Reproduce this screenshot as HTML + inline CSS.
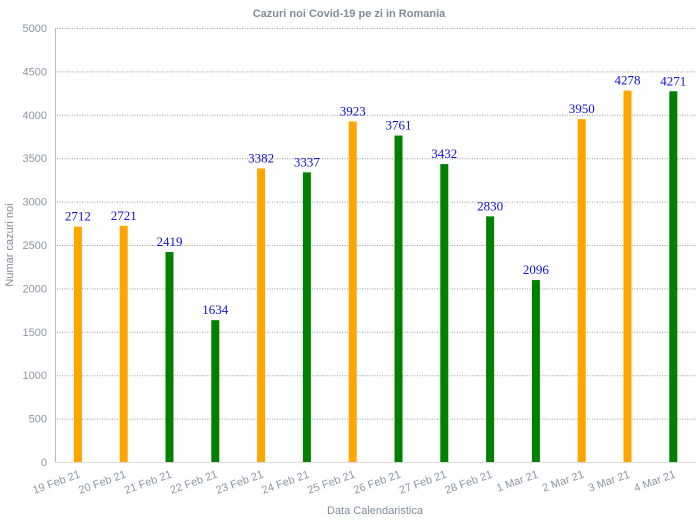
<!DOCTYPE html>
<html><head><meta charset="utf-8"><style>body{margin:0;background:#fff}svg{display:block}</style></head><body>
<svg width="698" height="520" xmlns="http://www.w3.org/2000/svg">
<text x="349" y="17" text-anchor="middle" font-family="Liberation Sans, sans-serif" font-size="11" font-weight="bold" fill="#7f8c9a">Cazuri noi Covid-19 pe zi in Romania</text>
<g id="grid" stroke="#999" stroke-dasharray="1,1.5" stroke-width="1"></g>
<line x1="55.5" y1="28" x2="55.5" y2="462" stroke="#bbb"/>
<line x1="55" y1="462.5" x2="696" y2="462.5" stroke="#ddd"/>
<g id="yl" font-family="Liberation Sans, sans-serif" font-size="11" fill="#8a96a3" text-anchor="end"></g>
<g id="bars"></g>
<g id="xl" font-family="Liberation Sans, sans-serif" font-size="11" fill="#8a96a3" text-anchor="end"></g>
<text x="375" y="514" text-anchor="middle" font-family="Liberation Sans, sans-serif" font-size="11" fill="#7f8c9a">Data Calendaristica</text>
<text transform="translate(13,245) rotate(-90)" text-anchor="middle" font-family="Liberation Sans, sans-serif" font-size="11" fill="#7f8c9a">Numar cazuri noi</text>
<script>
var ns="http://www.w3.org/2000/svg";
function el(p,t,a,txt){var e=document.createElementNS(ns,t);for(var k in a)e.setAttribute(k,a[k]);if(txt!=null)e.textContent=txt;document.getElementById(p).appendChild(e);}
for(var v=500;v<=5000;v+=500){var y=462-v*0.0868;el("grid","line",{x1:57,x2:696,y1:y+0.5,y2:y+0.5});}
for(var v=0;v<=5000;v+=500){var y=462-v*0.0868;el("yl","text",{x:47,y:y+4},String(v));}
var d=[["19 Feb 21",2712,1],["20 Feb 21",2721,1],["21 Feb 21",2419,0],["22 Feb 21",1634,0],["23 Feb 21",3382,1],["24 Feb 21",3337,0],["25 Feb 21",3923,1],["26 Feb 21",3761,0],["27 Feb 21",3432,0],["28 Feb 21",2830,0],["1 Mar 21",2096,0],["2 Mar 21",3950,1],["3 Mar 21",4278,1],["4 Mar 21",4271,0]];
d.forEach(function(r,i){var cx=77.9+i*45.8,h=r[1]*0.0868;
el("bars","rect",{x:cx-4,y:462-h,width:8,height:h,fill:r[2]?"#FFA500":"#008000"});
el("bars","text",{x:cx,y:462-h-6,"text-anchor":"middle","font-family":"Liberation Serif, serif","font-size":"13",fill:"#1010d0"},String(r[1]));
el("xl","text",{transform:"translate("+(cx+3)+",477) rotate(-20)"},r[0]);});
</script>
</svg>
</body></html>
